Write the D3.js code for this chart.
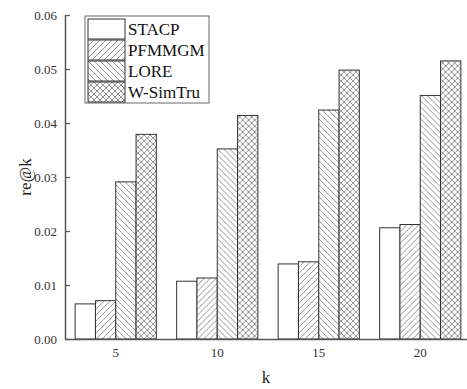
<!DOCTYPE html>
<html>
<head>
<meta charset="utf-8">
<script src="https://cdn.jsdelivr.net/npm/d3@7"></script>
<style>
  body { margin: 0; background: #fff; }
  svg { display: block; font-family: "Liberation Serif", "DejaVu Serif", serif; }
</style>
</head>
<body>
<svg id="chart"></svg>
<script>
const width = 467, height = 389
const margin = { top: 15, right: -4, bottom: 50, left: 65 }

// data
const ks = ['5', '10', '15', '20']
const series = ['STACP', 'PFMMGM', 'LORE', 'W-SimTru']
const stacp = [0.0065, 0.0107, 0.0139, 0.0206]
const pfmmgm = [0.0071, 0.0113, 0.0143, 0.0212]
const lore = [0.0291, 0.0352, 0.0424, 0.0451]
const wsimtru = [0.0379, 0.0414, 0.0498, 0.0515]
const yTicks = [0, 0.01, 0.02, 0.03, 0.04, 0.05, 0.06]

const values = [stacp, pfmmgm, lore, wsimtru]
const fills = ['#fff', 'url(#hatch-fwd)', 'url(#hatch-back)', 'url(#hatch-cross)']

const svg = d3.select('#chart')
    .attr('width', width)
    .attr('height', height)

// hatch patterns
const defs = svg.append('defs')
function pattern(id, paths) {
    const p = defs.append('pattern')
        .attr('id', id)
        .attr('patternUnits', 'userSpaceOnUse')
        .attr('width', 6)
        .attr('height', 6)
    p.append('rect').attr('width', 6).attr('height', 6).attr('fill', '#fff')
    paths.forEach(d => p.append('path')
        .attr('d', d)
        .attr('stroke', '#666')
        .attr('stroke-width', 0.7)
        .attr('fill', 'none'))
}
pattern('hatch-fwd', ['M-1,1 L1,-1 M0,6 L6,0 M5,7 L7,5'])
pattern('hatch-back', ['M-1,5 L1,7 M0,0 L6,6 M5,-1 L7,1'])
pattern('hatch-cross', ['M-1,1 L1,-1 M0,6 L6,0 M5,7 L7,5', 'M-1,5 L1,7 M0,0 L6,6 M5,-1 L7,1'])

const x0 = d3.scaleBand()
    .domain(ks)
    .range([margin.left, width - margin.right])
    .paddingInner(0.2)
    .paddingOuter(0.1)

const x1 = d3.scaleBand()
    .domain(series)
    .range([0, x0.bandwidth()])

const y = d3.scaleLinear()
    .domain([0, 0.06])
    .range([height - margin.bottom, margin.top])

// bars
const groups = svg.selectAll('.group')
    .data(ks)
    .enter()
    .append('g')
    .attr('class', 'group')
    .attr('transform', d => `translate(${x0(d)},0)`)

groups.selectAll('rect')
    .data((k, i) => series.map((s, j) => ({ s, j, v: values[j][i] })))
    .enter()
    .append('rect')
    .attr('x', d => x1(d.s))
    .attr('y', d => y(d.v))
    .attr('width', x1.bandwidth())
    .attr('height', d => y(0) - y(d.v))
    .attr('fill', d => fills[d.j])
    .attr('stroke', '#333')
    .attr('stroke-width', 1)

// axes
const yAxis = svg.append('g')
    .attr('transform', `translate(${margin.left},0)`)
    .call(d3.axisLeft(y).tickValues(yTicks).tickFormat(d3.format('.2f')).tickSizeInner(-5).tickSizeOuter(0).tickPadding(8))

const xAxis = svg.append('g')
    .attr('transform', `translate(0,${y(0)})`)
    .call(d3.axisBottom(x0).tickSizeInner(-5).tickSizeOuter(0).tickPadding(9))

xAxis.select('.domain').attr('d', `M${margin.left},0.5H${width}`)

;[xAxis, yAxis].forEach(a => {
    a.select('.domain').attr('stroke', '#555').attr('stroke-width', 1.5)
    a.selectAll('.tick line').attr('stroke', '#555').attr('stroke-width', 1.2)
    a.selectAll('.tick text')
        .attr('fill', '#333')
        .style('font-family', '"Liberation Serif", serif')
        .style('font-size', '13px')
})

// axis titles
svg.append('text')
    .attr('transform', `translate(31,${(y(0) + y(0.06)) / 2}) rotate(-90)`)
    .attr('text-anchor', 'middle')
    .attr('fill', '#222')
    .style('font-size', '17px')
    .text('re@k')

svg.append('text')
    .attr('x', 266)
    .attr('y', 383)
    .attr('text-anchor', 'middle')
    .attr('fill', '#222')
    .style('font-size', '17px')
    .text('k')

// legend
const legend = svg.append('g').attr('transform', 'translate(85,16)')
legend.append('rect')
    .attr('width', 124)
    .attr('height', 87)
    .attr('fill', '#fff')
    .attr('stroke', '#666')
    .attr('stroke-width', 1)

const rows = legend.selectAll('.row')
    .data(series)
    .enter()
    .append('g')
    .attr('class', 'row')
    .attr('transform', (_, i) => `translate(3,${3 + i * 21})`)

rows.append('rect')
    .attr('width', 37)
    .attr('height', 20)
    .attr('fill', (_, i) => fills[i])
    .attr('stroke', '#333')

rows.append('text')
    .attr('x', 40)
    .attr('y', 16)
    .attr('fill', '#111')
    .style('font-size', '17px')
    .text(d => d)
</script>
</body>
</html>
